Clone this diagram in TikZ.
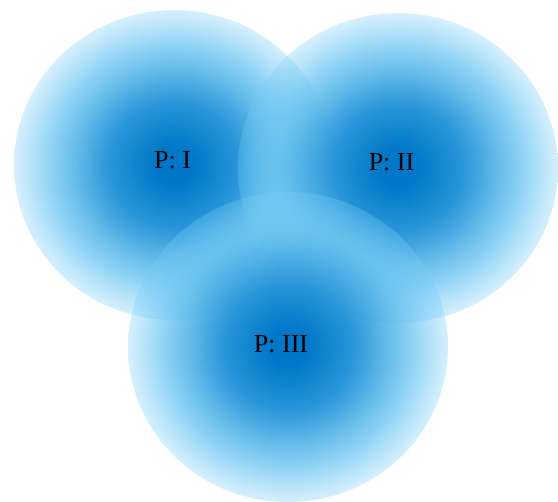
\documentclass[tikz,border=0pt]{standalone}
\usepackage{fontspec}
\setmainfont{Liberation Serif}
\usetikzlibrary{fadings}
\definecolor{cA}{RGB}{0,119,200}
\definecolor{cB}{RGB}{55,160,222}
\definecolor{cC}{RGB}{105,195,240}
\definecolor{cD}{RGB}{120,205,248}
\pgfdeclareradialshading{pball}{\pgfpoint{0bp}{0bp}}{color(0bp)=(cA); color(3bp)=(cA); color(12.5bp)=(cB); color(18.75bp)=(cC); color(25bp)=(cD); color(50bp)=(cD)}
\pgfdeclareradialshading{pfadeshade}{\pgfpoint{0bp}{0bp}}{color(0bp)=(white); color(10bp)=(white); color(18.75bp)=(black!20); color(25bp)=(black!70); color(50bp)=(black)}
\pgfdeclarefading{pfade}{\pgfuseshading{pfadeshade}}
\tikzset{
  ball/.style={shading=pball, path fading=pfade, fit fading=true},
  lbl/.style={font=\fontsize{26}{30}\selectfont, text=black, inner sep=0pt}
}
\begin{document}
\begin{tikzpicture}[x=1pt,y=-1pt]
\useasboundingbox (0,0) rectangle (558,502);
\shade[ball] (174,165) ellipse [x radius=160pt, y radius=155pt];
\shade[ball] (398,168) ellipse [x radius=160pt, y radius=155pt];
\shade[ball] (288,347) ellipse [x radius=160pt, y radius=155pt];
\node[lbl] (p1) at (172.5,160) {P: I};
\node[lbl] (p2) at (391.5,162) {P: II};
\node[lbl] (p3) at (281,344) {P: III};
\end{tikzpicture}
\end{document}
